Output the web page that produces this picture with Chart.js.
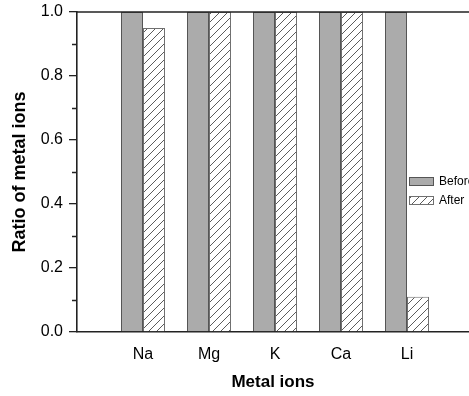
<!DOCTYPE html>
<html>
<head>
<meta charset="utf-8">
<script src="https://cdn.jsdelivr.net/npm/chart.js@4.4.1/dist/chart.umd.min.js"></script>
<style>
  html, body { margin: 0; padding: 0; background: #fff; }
  canvas { display: block; }
</style>
</head>
<body>
<canvas id="c" width="469" height="396"></canvas>
<script>
// Ratio of each metal ion remaining, before and after treatment
const categories = ['Na', 'Mg', 'K', 'Ca', 'Li'];
const beforeValues = [1.0, 1.0, 1.0, 1.0, 1.0];
const afterValues = [0.95, 1.0, 1.0, 1.0, 0.11];
const seriesNames = ['Before', 'After'];
const yTickValues = [0, 0.2, 0.4, 0.6, 0.8, 1.0];
const yMinorTickValues = [0.1, 0.3, 0.5, 0.7, 0.9];

const FONT = '"Liberation Sans", Arial, Helvetica, sans-serif';
const canvas = document.getElementById('c');
const ctx = canvas.getContext('2d');

// diagonal "/" hatch fill
function makeHatch() {
  const s = 8;
  const t = document.createElement('canvas');
  t.width = s; t.height = s;
  const g = t.getContext('2d');
  g.fillStyle = '#ffffff';
  g.fillRect(0, 0, s, s);
  g.strokeStyle = '#4a4a4a';
  g.lineWidth = 0.9;
  g.beginPath();
  g.moveTo(0, s); g.lineTo(s, 0);
  g.moveTo(-1, 1); g.lineTo(1, -1);
  g.moveTo(s - 1, s + 1); g.lineTo(s + 1, s - 1);
  g.stroke();
  return ctx.createPattern(t, 'repeat');
}
const hatch = makeHatch();

const toPoints = vals => vals.map((v, i) => ({ x: i + 1, y: v }));

// minor y ticks, top frame line and the inset legend
const extras = {
  id: 'extras',
  afterDraw(chart) {
    const c = chart.ctx;
    const area = chart.chartArea;
    const y = chart.scales.y;
    c.save();
    c.strokeStyle = '#222';
    c.lineWidth = 1.3;
    c.beginPath();
    yMinorTickValues.forEach(v => {
      const py = Math.round(y.getPixelForValue(v)) + 0.5;
      c.moveTo(area.left - 5, py);
      c.lineTo(area.left, py);
    });
    c.stroke();
    c.lineWidth = 1.6;
    c.beginPath();
    c.moveTo(area.left, area.top);
    c.lineTo(area.right, area.top);
    c.stroke();

    // legend
    const lx = area.right - 60;
    let ly = area.top + 165;
    chart.data.datasets.forEach(ds => {
      c.fillStyle = ds.backgroundColor;
      c.fillRect(lx, ly, 24, 8);
      c.strokeStyle = ds.borderColor;
      c.lineWidth = 1;
      c.strokeRect(lx + 0.5, ly + 0.5, 24, 8);
      c.fillStyle = '#000';
      c.font = '12px ' + FONT;
      c.textBaseline = 'middle';
      c.textAlign = 'left';
      c.fillText(ds.label, lx + 30, ly + 4.5);
      ly += 19;
    });
    c.restore();
  }
};

new Chart(ctx, {
  type: 'bar',
  data: {
    datasets: [
      {
        label: seriesNames[0],
        data: toPoints(beforeValues),
        backgroundColor: '#ababab',
        borderColor: '#555555',
        borderWidth: 1
      },
      {
        label: seriesNames[1],
        data: toPoints(afterValues),
        backgroundColor: hatch,
        borderColor: '#707070',
        borderWidth: 1
      }
    ]
  },
  plugins: [extras],
  options: {
    responsive: false,
    animation: false,
    devicePixelRatio: 1,
    layout: { padding: { top: 12, right: 0, left: 0, bottom: 0 } },
    datasets: { bar: { categoryPercentage: 44 / 66, barPercentage: 1.0 } },
    plugins: {
      legend: { display: false },
      tooltip: { enabled: false }
    },
    scales: {
      x: {
        type: 'linear',
        offset: false,
        min: 0,
        max: 392 / 66,
        afterFit: s => { s.height = 64; s.paddingLeft = 0; s.paddingRight = 0; },
        afterBuildTicks: s => { s.ticks = categories.map((c, i) => ({ value: i + 1 })); },
        grid: { display: false, drawTicks: false },
        border: { display: true, color: '#222', width: 1.6 },
        ticks: {
          padding: 13,
          color: '#000',
          font: { family: FONT, size: 16 },
          callback: v => categories[v - 1] ?? ''
        },
        title: {
          display: true,
          text: 'Metal ions',
          color: '#000',
          font: { family: FONT, size: 17, weight: 'bold' },
          padding: { top: 0, bottom: 3 }
        }
      },
      y: {
        min: 0,
        max: 1.0,
        afterFit: s => { s.width = 77; s.paddingTop = 0; s.paddingBottom = 0; },
        afterBuildTicks: s => { s.ticks = yTickValues.map(v => ({ value: v })); },
        grid: { drawOnChartArea: false, drawTicks: true, tickLength: 8, color: '#222', lineWidth: 1.3 },
        border: { display: true, color: '#222', width: 1.6 },
        ticks: {
          padding: 6,
          color: '#000',
          font: { family: FONT, size: 16 },
          callback: v => v.toFixed(1)
        },
        title: {
          display: true,
          text: 'Ratio of metal ions',
          color: '#000',
          font: { family: FONT, size: 18, weight: 'bold' },
          padding: { top: 9, bottom: 0 }
        }
      }
    }
  }
});
</script>
</body>
</html>
